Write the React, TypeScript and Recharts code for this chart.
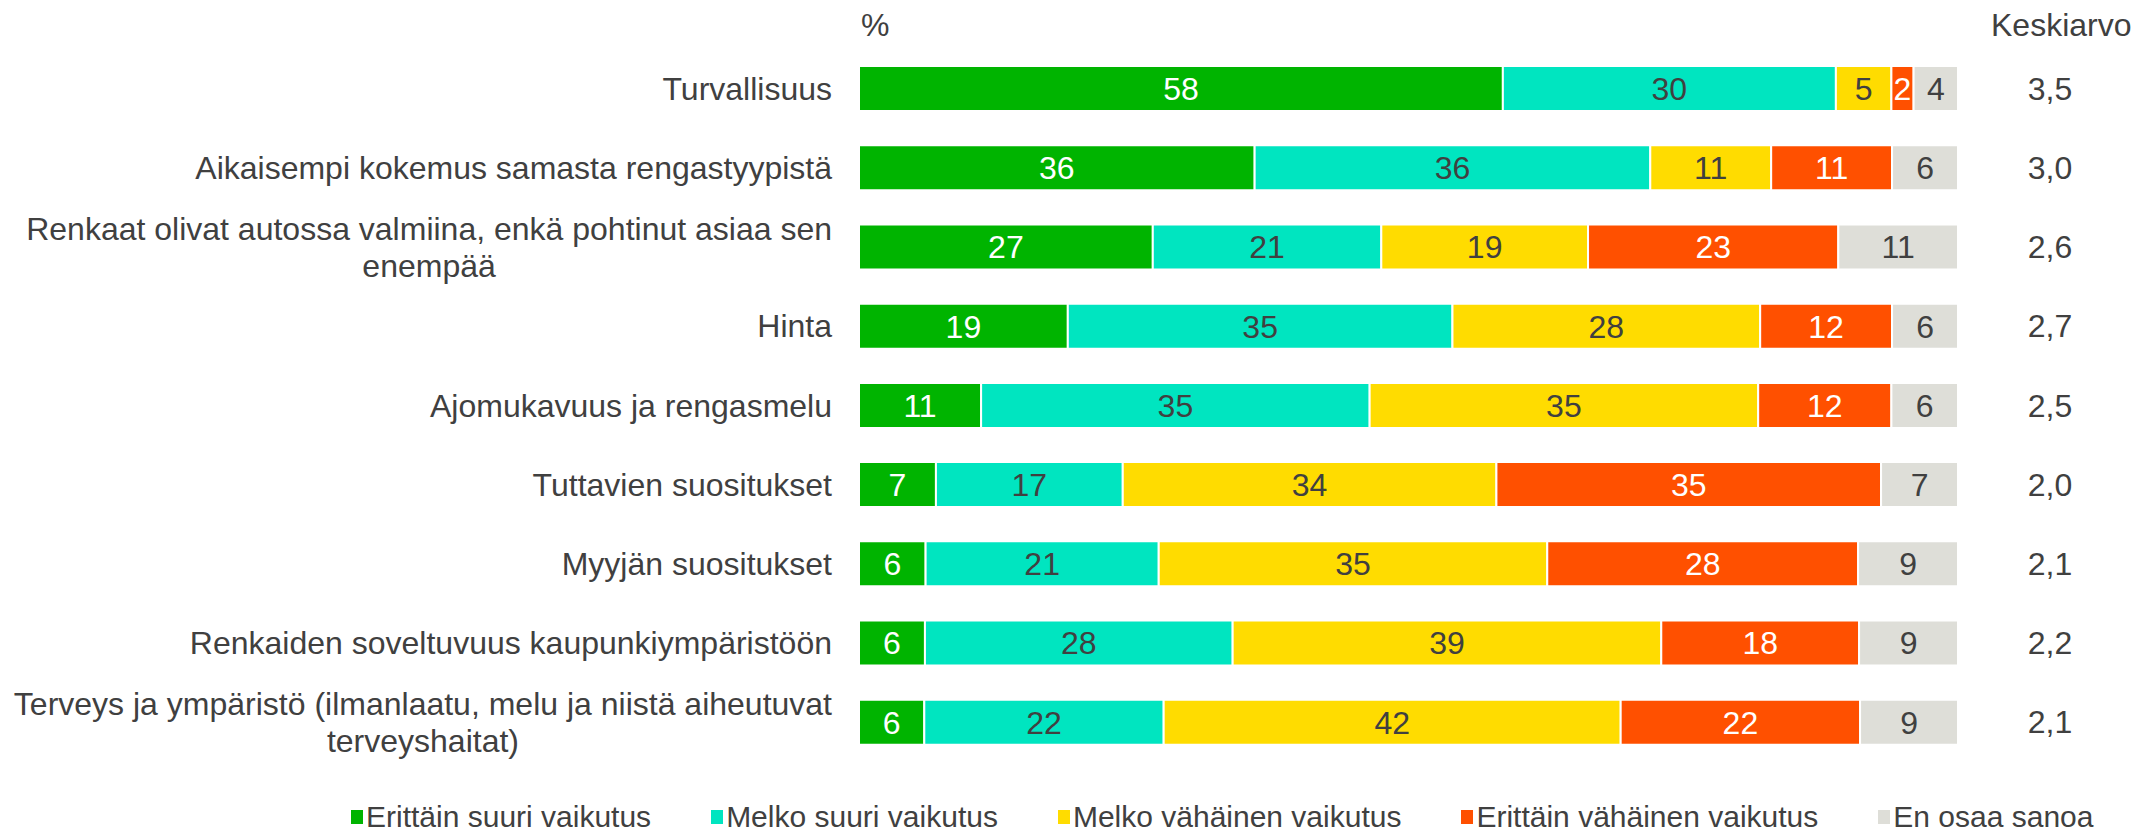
import { BarChart, Bar, XAxis, YAxis, LabelList, Legend } from 'recharts';

const categories = [
  'Turvallisuus',
  'Aikaisempi kokemus samasta rengastyypistä',
  'Renkaat olivat autossa valmiina, enkä pohtinut asiaa sen\nenempää',
  'Hinta',
  'Ajomukavuus ja rengasmelu',
  'Tuttavien suositukset',
  'Myyjän suositukset',
  'Renkaiden soveltuvuus kaupunkiympäristöön',
  'Terveys ja ympäristö (ilmanlaatu, melu ja niistä aiheutuvat\nterveyshaitat)',
];

const erittainSuuri = [58, 36, 27, 19, 11, 7, 6, 6, 6];
const melkoSuuri = [30, 36, 21, 35, 35, 17, 21, 28, 22];
const melkoVahainen = [5, 11, 19, 28, 35, 34, 35, 39, 42];
const erittainVahainen = [2, 11, 23, 12, 12, 35, 28, 18, 22];
const enOsaa = [4, 6, 11, 6, 6, 7, 9, 9, 9];
const keskiarvo = [3.5, 3.0, 2.6, 2.7, 2.5, 2.0, 2.1, 2.2, 2.1];

const series = [
  { key: 'es', name: 'Erittäin suuri vaikutus', color: '#00B400', text: '#ffffff' },
  { key: 'ms', name: 'Melko suuri vaikutus', color: '#00E5C0', text: '#404040' },
  { key: 'mv', name: 'Melko vähäinen vaikutus', color: '#FFDC00', text: '#404040' },
  { key: 'ev', name: 'Erittäin vähäinen vaikutus', color: '#FF5000', text: '#ffffff' },
  { key: 'eo', name: 'En osaa sanoa', color: '#DEDED8', text: '#404040' },
];

const data = categories.map((name, i) => ({
  name,
  es: erittainSuuri[i],
  ms: melkoSuuri[i],
  mv: melkoVahainen[i],
  ev: erittainVahainen[i],
  eo: enOsaa[i],
  mean: keskiarvo[i].toFixed(1).replace('.', ','),
}));

const FONT = '"Liberation Sans", Arial, sans-serif';
const FS = 32;
const TEXT = '#404040';

let ctx: CanvasRenderingContext2D | null = null;
const measure = (s: string) => {
  if (!ctx) ctx = document.createElement('canvas').getContext('2d');
  if (!ctx) return s.length * FS * 0.5;
  ctx.font = `${FS}px ${FONT}`;
  return ctx.measureText(s).width;
};

const LABEL_RIGHT = 832;

const CategoryTick = (props: any) => {
  const { y, payload } = props;
  const lines: string[] = String(payload.value).split('\n');
  if (lines.length === 1) {
    return (
      <text x={LABEL_RIGHT} y={y} dy={11} textAnchor="end" fill={TEXT} fontSize={FS} fontFamily={FONT}>
        {lines[0]}
      </text>
    );
  }
  const w = measure(lines[0]);
  const cx = LABEL_RIGHT - w / 2;
  const lh = 37;
  const start = y - ((lines.length - 1) * lh) / 2;
  return (
    <text textAnchor="middle" fill={TEXT} fontSize={FS} fontFamily={FONT}>
      {lines.map((l, i) => (
        <tspan key={i} x={cx} y={start + i * lh} dy={11}>
          {l}
        </tspan>
      ))}
    </text>
  );
};

const MeanTick = (props: any) => {
  const { y, payload } = props;
  return (
    <text x={2050} y={y} dy={11} textAnchor="middle" fill={TEXT} fontSize={FS} fontFamily={FONT}>
      {payload.value}
    </text>
  );
};

const renderLegend = () => (
  <div style={{ display: 'flex', alignItems: 'center', gap: 60, fontFamily: FONT, fontSize: 30, lineHeight: '32px', color: TEXT, whiteSpace: 'nowrap' }}>
    {series.map((s) => (
      <div key={s.key} style={{ display: 'flex', alignItems: 'center' }}>
        <span style={{ display: 'inline-block', width: 12, height: 14, background: s.color, marginRight: 3 }} />
        <span>{s.name}</span>
      </div>
    ))}
  </div>
);

export default function App() {
  return (
    <div style={{ position: 'absolute', left: 0, top: 0, width: 2136, height: 835, background: '#fff', fontFamily: FONT, overflow: 'hidden' }}>
      <div style={{ position: 'absolute', left: 861, top: 8, fontSize: FS, color: TEXT, lineHeight: '34px' }}>%</div>
      <div style={{ position: 'absolute', left: 1991, top: 8, fontSize: FS, color: TEXT, lineHeight: '34px' }}>Keskiarvo</div>
      <BarChart
        width={2136}
        height={835}
        data={data}
        layout="vertical"
        stackOffset="expand"
        margin={{ top: 49, right: 0, bottom: 73, left: 0 }}
      >
        <XAxis type="number" hide domain={[0, 1]} />
        <YAxis
          yAxisId="left"
          type="category"
          dataKey="name"
          width={859}
          axisLine={false}
          tickLine={false}
          tick={<CategoryTick />}
          interval={0}
        />
        <YAxis
          yAxisId="right"
          orientation="right"
          type="category"
          dataKey="mean"
          width={178}
          axisLine={false}
          tickLine={false}
          tick={<MeanTick />}
          interval={0}
        />
        <Legend
          layout="horizontal"
          verticalAlign="middle"
          content={renderLegend}
          wrapperStyle={{ left: 351, top: 801, width: 'auto' }}
        />
        {series.map((s) => (
          <Bar
            key={s.key}
            yAxisId="left"
            dataKey={s.key}
            name={s.name}
            stackId="a"
            fill={s.color}
            stroke="#ffffff"
            strokeWidth={2}
            barSize={45}
            isAnimationActive={false}
          >
            <LabelList dataKey={s.key} position="center" fill={s.text} fontSize={FS} fontFamily={FONT} />
          </Bar>
        ))}
      </BarChart>
    </div>
  );
}
